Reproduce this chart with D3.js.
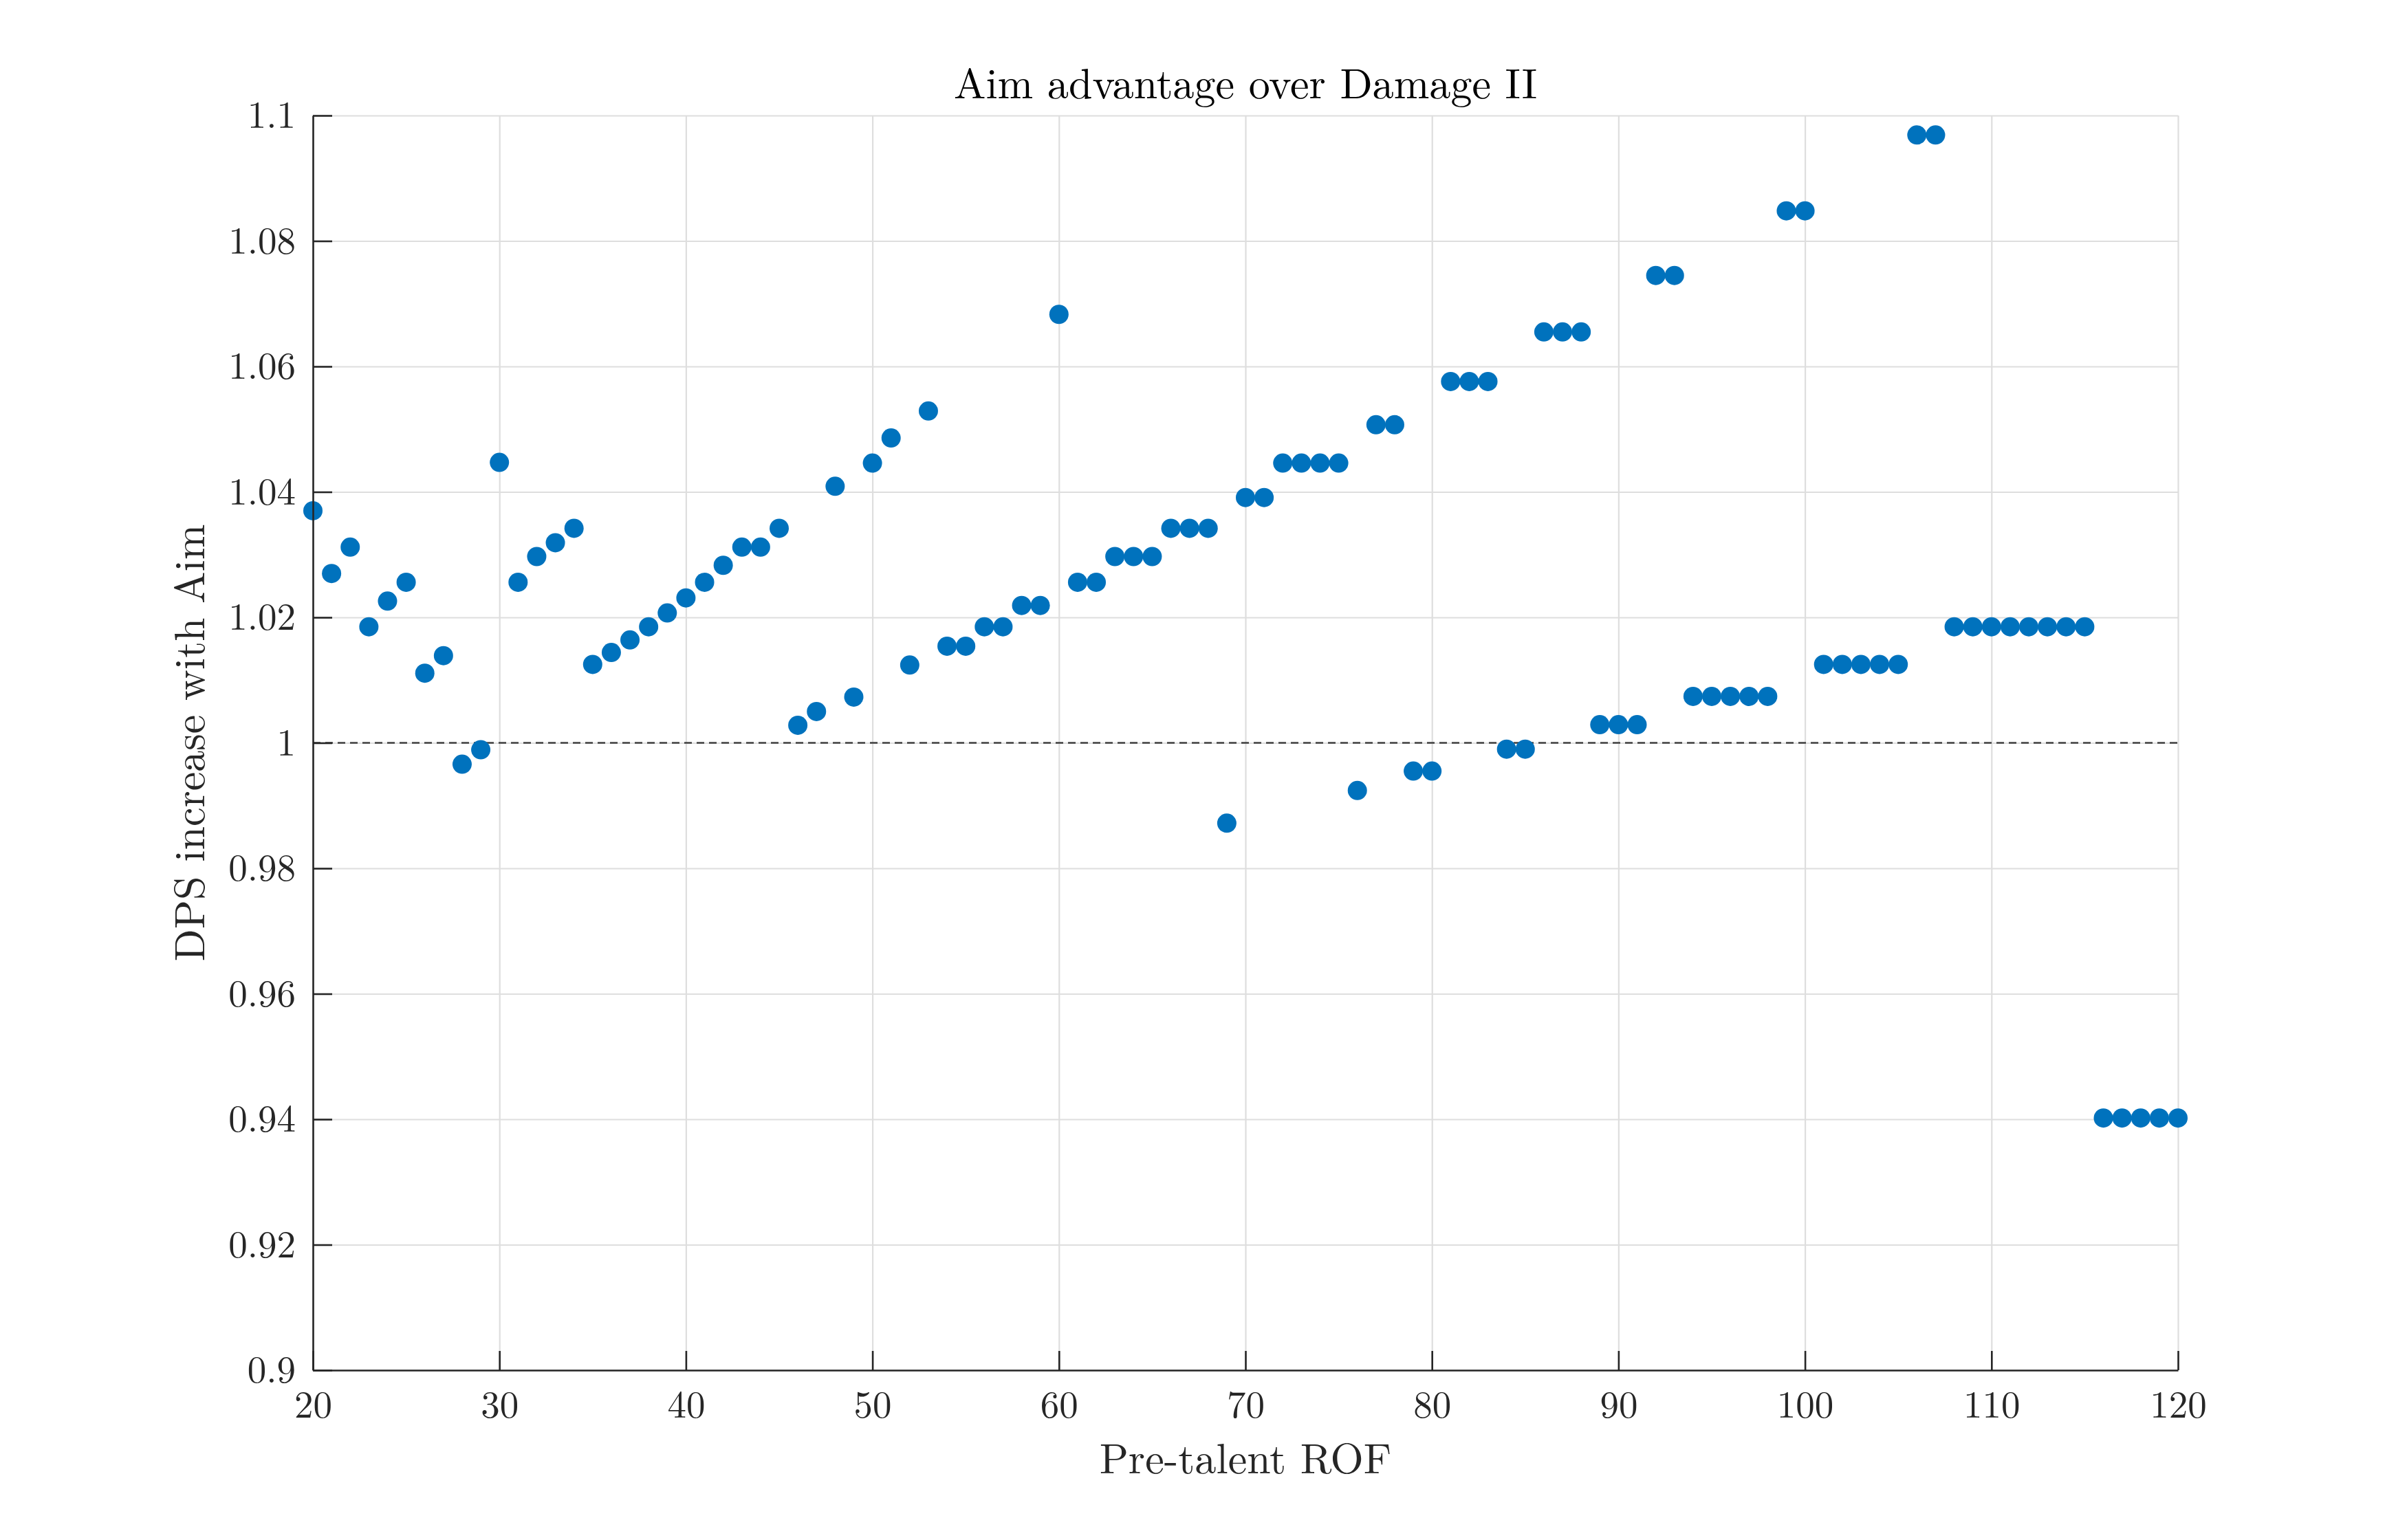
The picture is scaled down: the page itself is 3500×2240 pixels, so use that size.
<!DOCTYPE html>
<html lang="en">

<head>
  <meta charset="UTF-8">
  <title>Aim advantage over Damage II</title>
  <script src="https://d3js.org/d3.v7.min.js"></script>
  <style>
    body {
      margin: 0;
      background: #fff;
    }

    text {
      font-family: "Latin Modern Roman", "CMU Serif", "Liberation Serif", serif;
      fill: #262626;
    }

    .grid line {
      stroke: #dedede;
      stroke-width: 2.2px;
    }

    .grid path {
      display: none;
    }

    .axis path,
    .axis line {
      stroke: #262626;
      stroke-width: 2.6px;
    }

    .axis text {
      font-size: 55px;
    }
  </style>
</head>

<body>
  <div id="chart"></div>
  <script>
    // pre-talent rate of fire
    const rof = [
      20, 21, 22, 23, 24, 25, 26, 27, 28, 29,
      30, 31, 32, 33, 34, 35, 36, 37, 38, 39,
      40, 41, 42, 43, 44, 45, 46, 47, 48, 49,
      50, 51, 52, 53, 54, 55, 56, 57, 58, 59,
      60, 61, 62, 63, 64, 65, 66, 67, 68, 69,
      70, 71, 72, 73, 74, 75, 76, 77, 78, 79,
      80, 81, 82, 83, 84, 85, 86, 87, 88, 89,
      90, 91, 92, 93, 94, 95, 96, 97, 98, 99,
      100, 101, 102, 103, 104, 105, 106, 107, 108, 109,
      110, 111, 112, 113, 114, 115, 116, 117, 118, 119,
      120
    ];

    // DPS with Aim / DPS with Damage II
    const dpsRatio = [
      1.0370, 1.0270, 1.0312, 1.0185, 1.0226, 1.0256, 1.0111, 1.0139, 0.9966, 0.9989,
      1.0447, 1.0256, 1.0297, 1.0319, 1.0342, 1.0125, 1.0144, 1.0164, 1.0185, 1.0207,
      1.0231, 1.0256, 1.0283, 1.0312, 1.0312, 1.0342, 1.0028, 1.0050, 1.0409, 1.0073,
      1.0446, 1.0486, 1.0124, 1.0529, 1.0154, 1.0154, 1.0185, 1.0185, 1.0219, 1.0219,
      1.0683, 1.0256, 1.0256, 1.0297, 1.0297, 1.0297, 1.0342, 1.0342, 1.0342, 0.9872,
      1.0391, 1.0391, 1.0446, 1.0446, 1.0446, 1.0446, 0.9924, 1.0507, 1.0507, 0.9955,
      0.9955, 1.0576, 1.0576, 1.0576, 0.9990, 0.9990, 1.0655, 1.0655, 1.0655, 1.0029,
      1.0029, 1.0029, 1.0745, 1.0745, 1.0074, 1.0074, 1.0074, 1.0074, 1.0074, 1.0848,
      1.0848, 1.0125, 1.0125, 1.0125, 1.0125, 1.0125, 1.0969, 1.0969, 1.0185, 1.0185,
      1.0185, 1.0185, 1.0185, 1.0185, 1.0185, 1.0185, 0.9402, 0.9402, 0.9402, 0.9402,
      0.9402
    ];

    const xTicks = [20, 30, 40, 50, 60, 70, 80, 90, 100, 110, 120];
    const yTicks = [0.9, 0.92, 0.94, 0.96, 0.98, 1, 1.02, 1.04, 1.06, 1.08, 1.1];
    const xDomain = [20, 120];
    const yDomain = [0.9, 1.1];
    const baseline = 1;

    const titleText = "Aim advantage over Damage II";
    const xLabelText = "Pre-talent ROF";
    const yLabelText = "DPS increase with Aim";

    const width = 3500;
    const height = 2240;
    const margin = { top: 168, right: 333, bottom: 247, left: 455 };
    const plotW = width - margin.left - margin.right;
    const plotH = height - margin.top - margin.bottom;

    const svg = d3.select("#chart").append("svg")
      .attr("width", width)
      .attr("height", height);

    const g = svg.append("g")
      .attr("transform", `translate(${margin.left},${margin.top})`);

    const x = d3.scaleLinear().domain(xDomain).range([0, plotW]);
    const y = d3.scaleLinear().domain(yDomain).range([plotH, 0]);

    // grid
    g.append("g")
      .attr("class", "grid")
      .attr("transform", `translate(0,${plotH})`)
      .call(d3.axisBottom(x).tickValues(xTicks).tickSize(-plotH).tickFormat(""));

    g.append("g")
      .attr("class", "grid")
      .call(d3.axisLeft(y).tickValues(yTicks).tickSize(-plotW).tickFormat(""));

    // reference line at 1
    g.append("line")
      .attr("x1", x(xDomain[0]))
      .attr("x2", x(xDomain[1]))
      .attr("y1", y(baseline))
      .attr("y2", y(baseline))
      .attr("stroke", "#404040")
      .attr("stroke-width", 2.4)
      .attr("stroke-dasharray", "11,7");

    // points
    g.append("g")
      .selectAll("circle")
      .data(rof)
      .join("circle")
      .attr("cx", d => x(d))
      .attr("cy", (d, i) => y(dpsRatio[i]))
      .attr("r", 14)
      .attr("fill", "#0072BD");

    // axes
    const fmt = d => String(+d.toFixed(2));

    g.append("g")
      .attr("class", "axis")
      .attr("transform", `translate(0,${plotH})`)
      .call(d3.axisBottom(x).tickValues(xTicks).tickSizeInner(-28).tickSizeOuter(0).tickPadding(30).tickFormat(fmt));

    g.append("g")
      .attr("class", "axis")
      .call(d3.axisLeft(y).tickValues(yTicks).tickSizeInner(-28).tickSizeOuter(0).tickPadding(25).tickFormat(fmt));

    // labels
    svg.append("text")
      .attr("x", margin.left + plotW / 2)
      .attr("y", 143)
      .attr("text-anchor", "middle")
      .style("font-size", "62px")
      .style("fill", "#000")
      .text(titleText);

    svg.append("text")
      .attr("x", margin.left + plotW / 2)
      .attr("y", 2143)
      .attr("text-anchor", "middle")
      .style("font-size", "62px")
      .text(xLabelText);

    svg.append("text")
      .attr("transform", `translate(297,${margin.top + y(baseline)}) rotate(-90)`)
      .attr("text-anchor", "middle")
      .style("font-size", "62px")
      .text(yLabelText);
  </script>
</body>

</html>
